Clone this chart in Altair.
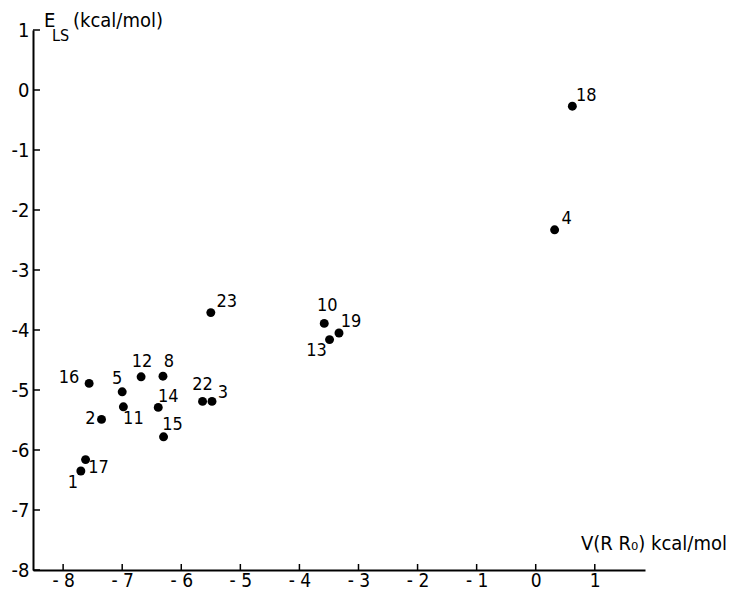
import altair as alt
import pandas as pd

# Data
ids = ["1", "2", "3", "4", "5", "8", "10", "11", "12", "13", "14", "15",
       "16", "17", "18", "19", "22", "23"]
v_rr0 = [-7.70, -7.35, -5.48, 0.32, -7.00, -6.31, -3.58, -6.98, -6.68, -3.49,
         -6.39, -6.30, -7.56, -7.62, 0.62, -3.33, -5.64, -5.50]
e_ls = [-6.35, -5.49, -5.19, -2.33, -5.03, -4.77, -3.89, -5.28, -4.78, -4.16,
        -5.29, -5.78, -4.89, -6.16, -0.27, -4.05, -5.19, -3.71]

x_ticks = [-8, -7, -6, -5, -4, -3, -2, -1, 0, 1]
y_ticks = [-8, -7, -6, -5, -4, -3, -2, -1, 0, 1]

# label placement (pixel offsets of label centre from its point)
label_dx = [-8, -11, 11, 12, -5, 6, 3, 10, 1, -13, 10, 9, -20, 13, 14, 12, 0, 16]
label_dy = [12, 0, -8, -11, -13, -14, -17, 12, -15, 11, -10, -12, -5, 8, -10, -11, -16, -11]

df = pd.DataFrame({"id": ids, "x": v_rr0, "y": e_ls})

FONT = "DejaVu Sans Condensed, Liberation Sans Narrow, DejaVu Sans"
W, H = 612, 540
xs = alt.Scale(domain=[-8.51, 1.85], nice=False, zero=False)
ys = alt.Scale(domain=[-8, 1.0], nice=False, zero=False)

x_axis = alt.Axis(values=x_ticks, ticks=False, grid=False, domainColor="black",
                  domainWidth=2, labelFontSize=19, labelFont=FONT, labelColor="black",
                  labelPadding=1, title=None,
                  labelExpr="datum.value < 0 ? '- ' + abs(datum.value) : '' + datum.value")
y_axis = alt.Axis(values=y_ticks, ticks=False, grid=False, domainColor="black",
                  domainWidth=2, labelFontSize=20, labelFont=FONT, labelColor="black",
                  labelPadding=4, title=None,
                  labelExpr="datum.value < 0 ? '-' + abs(datum.value) : '' + datum.value")

points = alt.Chart(df).mark_circle(size=80, color="black", opacity=1).encode(
    x=alt.X("x:Q", scale=xs, axis=x_axis),
    y=alt.Y("y:Q", scale=ys, axis=y_axis),
)

label_layers = []
for i, pid in enumerate(ids):
    label_layers.append(
        alt.Chart(df).transform_filter(alt.datum.id == pid).mark_text(
            font=FONT, fontSize=18, color="black", align="center", baseline="middle",
            dx=label_dx[i], dy=label_dy[i],
        ).encode(x=alt.X("x:Q", scale=xs), y=alt.Y("y:Q", scale=ys), text="id:N")
    )

xt = alt.Chart(pd.DataFrame({"t": x_ticks})).mark_rule(color="black", strokeWidth=1.5).encode(
    x=alt.X("t:Q", scale=xs), y=alt.value(H), y2=alt.value(H - 6))
yt = alt.Chart(pd.DataFrame({"t": y_ticks})).mark_rule(color="black", strokeWidth=1.5).encode(
    y=alt.Y("t:Q", scale=ys), x=alt.value(0), x2=alt.value(7))

def txt(s, x, y, size, align="left"):
    return alt.Chart(pd.DataFrame({"s": [s]})).mark_text(
        font=FONT, fontSize=size, color="black", align=align, baseline="middle"
    ).encode(text="s:N", x=alt.value(x), y=alt.value(y))

titles = [
    txt("E", 11, -9, 20),
    txt("LS", 19, 6, 16),
    txt("(kcal/mol)", 40, -9, 20),
    txt("V(R R\u2080) kcal/mol", 548, 514, 20),
]

chart = alt.layer(points, xt, yt, *label_layers, *titles).properties(
    width=W, height=H,
    autosize=alt.AutoSizeParams(type="none"),
    padding={"left": 25, "top": 22, "right": 90, "bottom": 26},
    background="white",
).configure_view(stroke=None)

chart.save("out.html", embed_options={"renderer": "svg", "actions": False})
